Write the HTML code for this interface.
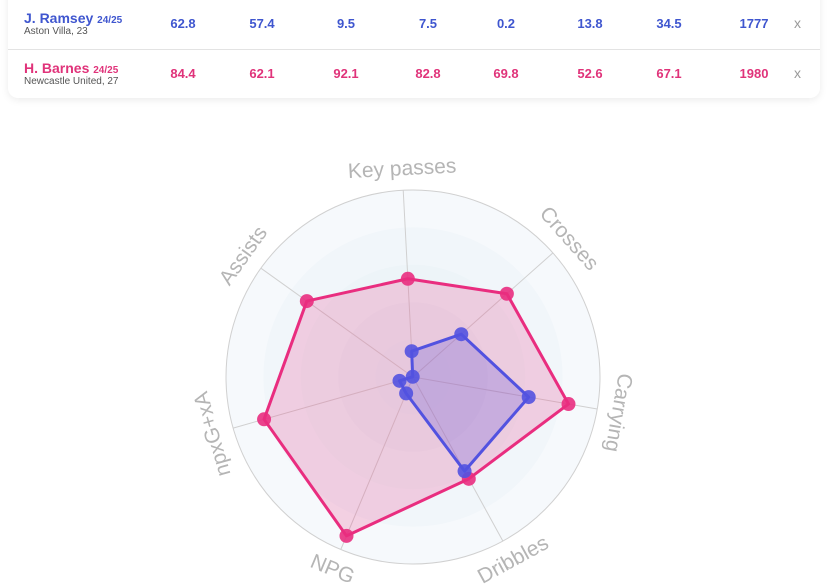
<!DOCTYPE html>
<html><head><meta charset="utf-8"><style>
body{margin:0;width:827px;height:587px;background:#fff;font-family:"Liberation Sans",sans-serif;overflow:hidden;position:relative}
.card{position:absolute;left:8px;top:-10px;width:812px;height:108px;background:#fff;border-radius:0 0 10px 10px;box-shadow:0 2px 8px rgba(0,0,0,0.08)}
.row{position:absolute;left:0;width:812px;height:49px}
.name{position:absolute;left:16px;font-size:14px;font-weight:bold}
.name small{font-size:10px}
.sub{position:absolute;left:16px;font-size:10px;color:#555}
.v{position:absolute;width:60px;margin-left:-30px;text-align:center;font-size:13px;font-weight:bold}
.x{position:absolute;left:786px;font-size:14px;color:#999}
</style></head><body>
<div class="card">
 <div class="row" style="top:10px;border-bottom:1px solid #e3e3e3">
  <div class="name" style="top:10px;color:#3f56cf">J. Ramsey <small>24/25</small></div>
  <div class="sub" style="top:26px">Aston Villa, 23</div>
  <div id="r1"></div>
  <div class="x" style="top:15px">x</div>
 </div>
 <div class="row" style="top:60px">
  <div class="name" style="top:10px;color:#e0337a">H. Barnes <small>24/25</small></div>
  <div class="sub" style="top:26px">Newcastle United, 27</div>
  <div id="r2"></div>
  <div class="x" style="top:15px">x</div>
 </div>
</div>
<svg id="radar" width="827" height="587" style="position:absolute;left:0;top:0"></svg>
<script>
const ramseyRow=["62.8","57.4","9.5","7.5","0.2","13.8","34.5","1777"];
const barnesRow=["84.4","62.1","92.1","82.8","69.8","52.6","67.1","1980"];
const axes=["Key passes","Crosses","Carrying","Dribbles","NPG","npxG+xA","Assists"];
const ramsey=[13.8,34.5,62.8,57.4,9.5,7.5,0.2];
const barnes=[52.6,67.1,84.4,62.1,92.1,82.8,69.8];
const colX=[175,254,338,420,498,582,661,746];
function fill(id,vals,color,nm){
 const c=document.getElementById(id);
 vals.forEach((v,i)=>{const d=document.createElement('div');d.className='v';d.style.left=colX[i]+'px';d.style.top='16px';d.style.color=color;d.textContent=v;
 
 
 c.appendChild(d);});
}
fill('r1',ramseyRow,'#3f56cf','ramsey');fill('r2',barnesRow,'#e0337a','barnes');
const NS="http://www.w3.org/2000/svg",svg=document.getElementById('radar');
const cx=413,cy=377,R=187,rot=-3;
function ang(i){return (rot+i*360/axes.length)*Math.PI/180;}
function pt(i,v){const a=ang(i),r=R*v/100;return [cx+r*Math.sin(a),cy-r*Math.cos(a)];}
function el(t,at,name){const e=document.createElementNS(NS,t);for(const k in at)e.setAttribute(k,at[k]);
 
 
 svg.appendChild(e);return e;}
const ringCols=["#f6f9fc","#f1f6fa","#edf4f8","#e9f1f6","#e6eff5"];
[100,80,60,40,20].forEach((p,i)=>el('circle',{cx,cy,r:R*p/100,fill:ringCols[i],stroke:i==0?'#d0d0d0':'none'},'ring-'+p));
axes.forEach((n,i)=>{const [x,y]=pt(i,100);el('line',{x1:cx,y1:cy,x2:x,y2:y,stroke:'#d0d0d0','stroke-width':1},'axis-line-'+i);
 const [lx,ly]=pt(i,111.5);let d=rot+i*360/axes.length;if(d>110&&d<250)d-=180;
 const t=el('text',{x:lx,y:ly,'text-anchor':'middle','dominant-baseline':'central','font-size':21,fill:'#b5b5b5',transform:`rotate(${d} ${lx} ${ly})`},'axis-label-'+i);t.textContent=n;});
function series(vals,col,fillc,nm){
 const ps=vals.map((v,i)=>pt(i,v));
 el('polygon',{points:ps.map(p=>p.join(',')).join(' '),fill:fillc,stroke:col,'stroke-width':3,'stroke-linejoin':'round'},nm+'-area');
 ps.forEach((p,i)=>el('circle',{cx:p[0],cy:p[1],r:7,fill:col,'fill-opacity':0.9},nm+'-point-'+i));
}
series(barnes,'#e92d7f','rgba(233,45,127,0.2)','barnes');
series(ramsey,'#5252e0','rgba(90,80,220,0.25)','ramsey');
</script>
</body></html>
